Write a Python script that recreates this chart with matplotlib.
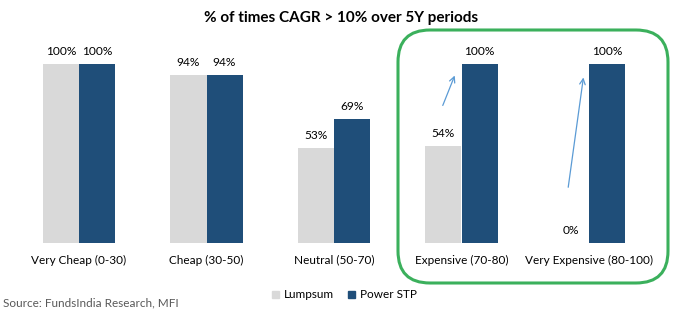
import matplotlib.pyplot as plt
from matplotlib.patches import FancyBboxPatch, Patch
from matplotlib.transforms import IdentityTransform
import numpy as np

plt.rcParams['font.family'] = ['Lato', 'DejaVu Sans']

categories = ['Very Cheap (0-30)', 'Cheap (30-50)', 'Neutral (50-70)',
              'Expensive (70-80)', 'Very Expensive (80-100)']
lumpsum = [100, 94, 53, 54, 0]
power_stp = [100, 94, 69, 100, 100]

light = '#d9d9d9'
dark = '#1f4e79'

fig = plt.figure(figsize=(6.76, 3.23), dpi=100)
ax = fig.add_axes([15.25 / 676, 80 / 323, 637.5 / 676, 179 / 323])

x = np.arange(len(categories))
w = 0.283
ax.bar(x - w / 2, lumpsum, w, color=light)
ax.bar(x + w / 2, power_stp, w, color=dark)

for i in range(len(categories)):
    ax.text(x[i] - w / 2, lumpsum[i] + 4, f'{lumpsum[i]}%', ha='center', va='bottom', fontsize=8.6)
    ax.text(x[i] + w / 2, power_stp[i] + 4, f'{power_stp[i]}%', ha='center', va='bottom', fontsize=8.6)
    ax.text(x[i], -6.5, categories[i], ha='center', va='top', fontsize=8.5)

ax.set_xlim(-0.5, 4.5)
ax.set_ylim(0, 100)
ax.axis('off')

# arrows
ax.annotate('', xy=(2.955, 95), xytext=(2.845, 75.4),
            arrowprops=dict(arrowstyle='->', color='#5b9bd5', lw=0.9))
ax.annotate('', xy=(3.959, 94), xytext=(3.834, 29.6),
            arrowprops=dict(arrowstyle='->', color='#5b9bd5', lw=0.9))

# green highlight box (pixels)
box = FancyBboxPatch((398, 323 - 283), 270, 253, boxstyle='round,pad=0,rounding_size=32',
                     transform=IdentityTransform(), fill=False, edgecolor='#3bb05c', lw=2.2)
fig.add_artist(box)

fig.text(341 / 676, 1 - 18 / 323, '% of times CAGR > 10% over 5Y periods', ha='center', va='center',
         fontsize=11, fontweight='bold')

handles = [Patch(color=light, label='Lumpsum'), Patch(color=dark, label='Power STP')]
fig.legend(handles=handles, loc='center', bbox_to_anchor=(344 / 676, 1 - 295 / 323), ncol=2,
           frameon=False, fontsize=8.5, handlelength=0.6, handleheight=0.6, handletextpad=0.4,
           columnspacing=1.2)

fig.text(3 / 676, 1 - 303 / 323, 'Source: FundsIndia Research, MFI', ha='left', va='center',
         fontsize=8.5, color='#595959')

fig.savefig('out.png', dpi=100)
